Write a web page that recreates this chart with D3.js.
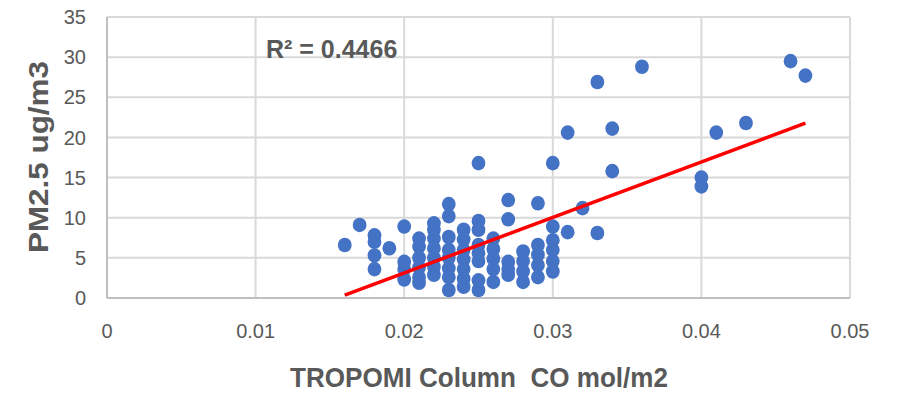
<!DOCTYPE html>
<html>
<head>
<meta charset="utf-8">
<script src="https://cdn.jsdelivr.net/npm/d3@7"></script>
<style>
  html, body { margin: 0; padding: 0; background: #fff; }
  svg { display: block; }
  text { font-family: "Liberation Sans", Arial, sans-serif; fill: #595959; }
</style>
</head>
<body>
<svg id="chart" width="897" height="398"></svg>
<script>
// ---- data ----
const xTicks = [0, 0.01, 0.02, 0.03, 0.04, 0.05];
const xTickLabels = ["0", "0.01", "0.02", "0.03", "0.04", "0.05"];
const yTicks = [0, 5, 10, 15, 20, 25, 30, 35];
const yTickLabels = ["0", "5", "10", "15", "20", "25", "30", "35"];

const coValues = [
  0.016,
  0.017,
  0.018, 0.018, 0.018, 0.018,
  0.019,
  0.020, 0.020, 0.020, 0.020,
  0.021, 0.021, 0.021, 0.021, 0.021, 0.021,
  0.022, 0.022, 0.022, 0.022, 0.022, 0.022, 0.022,
  0.023, 0.023, 0.023, 0.023, 0.023, 0.023, 0.023, 0.023,
  0.024, 0.024, 0.024, 0.024, 0.024, 0.024, 0.024,
  0.025, 0.025, 0.025, 0.025, 0.025, 0.025, 0.025, 0.025,
  0.026, 0.026, 0.026, 0.026, 0.026,
  0.027, 0.027, 0.027, 0.027, 0.027,
  0.028, 0.028, 0.028, 0.028,
  0.029, 0.029, 0.029, 0.029, 0.029,
  0.030, 0.030, 0.030, 0.030, 0.030, 0.030,
  0.031, 0.031,
  0.032,
  0.033, 0.033,
  0.034, 0.034,
  0.036,
  0.040, 0.040,
  0.041,
  0.043,
  0.046,
  0.047
];
const pm25Values = [
  6.6,
  9.1,
  7.8, 7.0, 5.3, 3.6,
  6.2,
  8.9, 4.5, 3.6, 2.3,
  7.4, 6.4, 5.0, 3.8, 2.6, 1.9,
  9.3, 8.5, 7.4, 6.2, 5.0, 3.9, 2.9,
  11.7, 10.2, 7.6, 6.0, 5.0, 3.7, 2.6, 1.0,
  8.5, 7.3, 6.0, 4.8, 3.6, 2.4, 1.4,
  16.8, 9.6, 8.5, 6.6, 5.6, 4.6, 2.2, 1.0,
  7.4, 6.1, 4.9, 3.6, 2.0,
  12.2, 9.8, 4.5, 3.6, 2.9,
  5.8, 4.6, 3.3, 2.0,
  11.8, 6.6, 5.4, 4.1, 2.6,
  16.8, 8.9, 7.2, 6.0, 4.6, 3.3,
  20.6, 8.2,
  11.2,
  26.9, 8.1,
  21.1, 15.8,
  28.8,
  15.0, 13.9,
  20.6,
  21.8,
  29.5,
  27.7
];

// linear trendline (Excel-style)
const trendRange = [0.016, 0.047];
const trendSlope = 691;
const trendIntercept = -10.7;
const rSquaredLabel = "R² = 0.4466";

const xTitle = "TROPOMI Column  CO mol/m2";
const yTitle = "PM2.5 ug/m3";

// ---- layout ----
const svg = d3.select("#chart");
const plot = { left: 107, right: 850, top: 17, bottom: 298 };

const x = d3.scaleLinear().domain([0, 0.05]).range([plot.left, plot.right]);
const y = d3.scaleLinear().domain([0, 35]).range([plot.bottom, plot.top]);

const gridColor = "#d9d9d9";

// horizontal gridlines
svg.append("g").selectAll("line").data(yTicks).join("line")
  .attr("x1", plot.left).attr("x2", plot.right)
  .attr("y1", d => y(d)).attr("y2", d => y(d))
  .attr("stroke", gridColor).attr("stroke-width", 2);

// vertical gridlines
svg.append("g").selectAll("line").data(xTicks).join("line")
  .attr("x1", d => x(d)).attr("x2", d => x(d))
  .attr("y1", plot.top).attr("y2", plot.bottom)
  .attr("stroke", gridColor).attr("stroke-width", 2);

// axes lines
svg.append("line")
  .attr("x1", plot.left).attr("x2", plot.left)
  .attr("y1", plot.top).attr("y2", plot.bottom)
  .attr("stroke", "#bfbfbf").attr("stroke-width", 2);
svg.append("line")
  .attr("x1", plot.left).attr("x2", plot.right)
  .attr("y1", plot.bottom).attr("y2", plot.bottom)
  .attr("stroke", "#bfbfbf").attr("stroke-width", 2);

// tick labels
svg.append("g").selectAll("text").data(yTicks).join("text")
  .attr("x", 86).attr("y", d => y(d))
  .attr("dy", "0.36em")
  .attr("text-anchor", "end")
  .style("font-size", "20px")
  .text((d, i) => yTickLabels[i]);

svg.append("g").selectAll("text").data(xTicks).join("text")
  .attr("x", d => x(d)).attr("y", 338)
  .attr("text-anchor", "middle")
  .style("font-size", "20px")
  .text((d, i) => xTickLabels[i]);

// points
const points = coValues.map((c, i) => ({ x: c, y: pm25Values[i] }));
svg.append("g").selectAll("ellipse").data(points).join("ellipse")
  .attr("cx", d => x(d.x)).attr("cy", d => y(d.y))
  .attr("rx", 6.9).attr("ry", 7.3)
  .attr("fill", "#4472c4");

// trendline
svg.append("line")
  .attr("x1", x(trendRange[0])).attr("y1", y(trendSlope * trendRange[0] + trendIntercept))
  .attr("x2", x(trendRange[1])).attr("y2", y(trendSlope * trendRange[1] + trendIntercept))
  .attr("stroke", "#ff0000").attr("stroke-width", 3.5);

// R² label
svg.append("text")
  .attr("x", x(0.0107)).attr("y", 58)
  .style("font-size", "25px").style("font-weight", "bold")
  .text(rSquaredLabel);

// axis titles
svg.append("text")
  .attr("x", 290).attr("y", 387)
  .attr("textLength", 378).attr("lengthAdjust", "spacingAndGlyphs")
  .style("white-space", "pre")
  .style("font-size", "28px").style("font-weight", "bold")
  .text(xTitle);

svg.append("text")
  .attr("transform", "translate(48,253) rotate(-90)")
  .attr("textLength", 192).attr("lengthAdjust", "spacingAndGlyphs")
  .style("font-size", "28px").style("font-weight", "bold")
  .text(yTitle);
</script>
</body>
</html>
